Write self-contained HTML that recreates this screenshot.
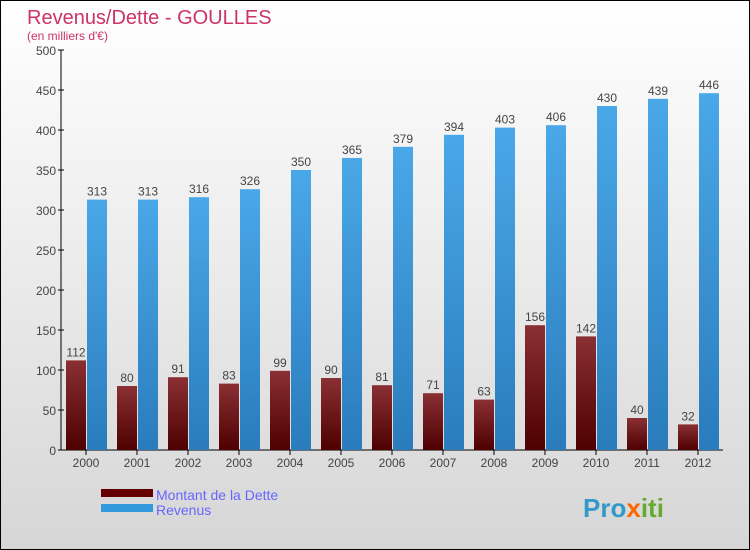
<!DOCTYPE html>
<html><head><meta charset="utf-8"><style>
body{margin:0;}
#c{width:748px;height:548px;border:1px solid #000;position:relative;overflow:hidden;background:linear-gradient(#ffffff,#d6d6d6);font-family:"Liberation Sans",sans-serif;}
</style></head><body>
<div id="c">
<svg id="s" width="748" height="548" xmlns="http://www.w3.org/2000/svg">
<defs>
<linearGradient id="gd" x1="0" y1="0" x2="0" y2="1"><stop offset="0" stop-color="#8a3034"/><stop offset="1" stop-color="#4e0000"/></linearGradient>
<linearGradient id="gr" x1="0" y1="0" x2="0" y2="1"><stop offset="0" stop-color="#4aa8e8"/><stop offset="1" stop-color="#2a7cbc"/></linearGradient>
</defs>
<text x="26" y="23" font-size="20" fill="#cc3366">Revenus/Dette - GOULLES</text>
<text x="26" y="39" font-size="12" fill="#cc3366">(en milliers d'€)</text>
<g id="ax"></g><g id="bars"></g>
<rect x="100" y="488" width="52" height="8" fill="#660000"/>
<rect x="100" y="503" width="52" height="8" fill="#3399dd"/>
<text x="155" y="499" font-size="14" fill="#6666ff">Montant de la Dette</text>
<text x="155" y="514" font-size="14" fill="#6666ff">Revenus</text>
<text x="582" y="516" font-size="26" font-weight="bold" fill="#3399cc"><tspan fill="#3399cc">Pro</tspan><tspan fill="#ff6600">x</tspan><tspan fill="#66aa33">iti</tspan></text>
</svg></div>
<script>
const years=["2000","2001","2002","2003","2004","2005","2006","2007","2008","2009","2010","2011","2012"];
const dette=[112,80,91,83,99,90,81,71,63,156,142,40,32];
const revenus=[313,313,316,326,350,365,379,394,403,406,430,439,446];
const ticks=[0,50,100,150,200,250,300,350,400,450,500];
const NS="http://www.w3.org/2000/svg";
const y=v=>449-v*0.8, xc=i=>85+i*51;
function mk(t,a,p){const e=document.createElementNS(NS,t);for(const k in a)e.setAttribute(k,a[k]);p.appendChild(e);return e;}
const ax=document.getElementById('ax'),bars=document.getElementById('bars');
let l=mk('line',{x1:60,y1:49,x2:60,y2:449,stroke:'#000'},ax);


l=mk('line',{x1:60,y1:449,x2:722,y2:449,stroke:'#000'},ax);


ticks.forEach(t=>{mk('line',{x1:57,x2:63,y1:y(t),y2:y(t),stroke:'#000'},ax);
const e=mk('text',{x:55,y:y(t)+5,'text-anchor':'end','font-size':12,fill:'#444'},ax);e.textContent=t;

});
years.forEach((yr,i)=>{const x=xc(i);
mk('line',{x1:x,x2:x,y1:449,y2:454,stroke:'#000'},ax);
const t=mk('text',{x:x,y:466,'text-anchor':'middle','font-size':12,fill:'#444'},ax);t.textContent=yr;


const b1=mk('rect',{x:x-20,y:y(dette[i]),width:20,height:dette[i]*0.8,fill:'url(#gd)'},bars);


const b2=mk('rect',{x:x+1,y:y(revenus[i]),width:20,height:revenus[i]*0.8,fill:'url(#gr)'},bars);


const l1=mk('text',{x:x-10,y:y(dette[i])-4,'text-anchor':'middle','font-size':12,fill:'#444'},bars);l1.textContent=dette[i];


const l2=mk('text',{x:x+11,y:y(revenus[i])-4,'text-anchor':'middle','font-size':12,fill:'#444'},bars);l2.textContent=revenus[i];

});
</script>
</body></html>
